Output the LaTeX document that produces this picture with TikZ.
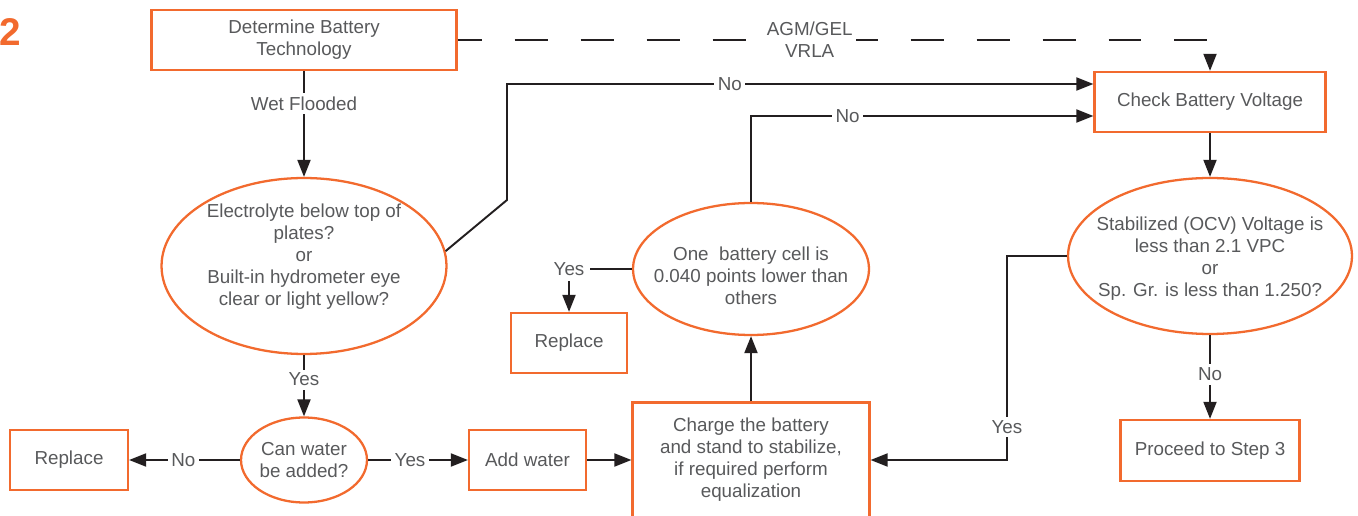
\documentclass[tikz,border=0pt]{standalone}
\usepackage{fontspec}
\setmainfont{Liberation Sans}
\usepackage{xcolor}
\usepackage{tikz}
\usetikzlibrary{positioning,arrows.meta,shapes.geometric}

\definecolor{flowor}{HTML}{F26A2E}
\definecolor{flowtx}{HTML}{58595B}
\definecolor{flowln}{HTML}{231F20}

\begin{document}
\begin{tikzpicture}[
    x=0.02cm,y=-0.02cm,
    font=\fontsize{10.7}{12.5}\selectfont,
    box/.style={
      draw=flowor,line width=1.3pt,align=center,text=flowtx,
      inner sep=0pt,minimum height=1.2cm},
    oval/.style={
      ellipse,draw=flowor,line width=1.3pt,inner sep=0pt},
    otext/.style={text=flowtx,align=center,inner sep=0pt},
    arr/.style={-{Triangle[length=3.4mm,width=2.6mm]},line width=1.1pt,draw=flowln},
    lbl/.style={fill=white,text=flowtx,inner sep=2pt,align=center}
]
\useasboundingbox (0,0) rectangle (1358,516);

% step number
\node[anchor=west,inner sep=0pt,text=flowor,font=\fontsize{22}{22}\selectfont\bfseries] (num) at (-1,32) {2};

% boxes
\node[box,minimum width=6.1cm]                    (det)  at (304,40)    {Determine Battery\\Technology};
\node[box,minimum width=4.62cm]                   (chk)  at (1210,102)  {Check Battery Voltage};
\node[box,minimum width=3.58cm,minimum height=1.22cm] (proc) at (1210,450.5) {Proceed to Step 3};
\node[box,minimum width=4.74cm,minimum height=2.3cm] (chg) at (751,460)
      {Charge the battery\\and stand to stabilize,\\if required perform\\equalization};
\node[box,minimum width=2.32cm]                   (repb) at (569,343)   {Replace};
\node[box,minimum width=2.36cm]                   (repa) at (69,460)    {Replace};
\node[box,minimum width=2.34cm]                   (add)  at (527.5,460) {Add water};

% decisions
\node[oval,minimum width=5.7cm,minimum height=3.52cm,
      label={[otext,yshift=0.18cm]center:{Electrolyte below top of\\plates?\\or\\Built-in hydrometer eye\\clear or light yellow?}}]
      (elec) at (304,266) {};
\node[oval,minimum width=2.52cm,minimum height=1.7cm,
      label={[otext]center:{Can water\\be added?}}]
      (can) at (304,460) {};
\node[oval,minimum width=4.72cm,minimum height=2.64cm,
      label={[otext,yshift=-0.14cm]center:{One\ \ battery cell is\\0.040 points lower than\\others}}]
      (cell) at (751,269) {};
\node[oval,minimum width=5.68cm,minimum height=3.12cm,
      label={[otext,yshift=-0.06cm]center:{Stabilized (OCV) Voltage is\\less than 2.1 VPC\\or\\Sp. Gr. is less than 1.250?}}]
      (stab) at (1210,256) {};

% connectors
\draw[arr,dash pattern=on 0.66cm off 0.66cm,dash phase=0.18cm] (det.east) -| node[lbl,pos=0.234]{AGM/GEL\\VRLA} (chk.north);
\draw[arr] (det.south) -- node[lbl,pos=0.31]{Wet Flooded} (elec.north);
\draw[arr] (elec.6.5) -- (507,200) |- node[lbl,pos=0.69]{No} ([yshift=0.36cm]chk.west);
\draw[arr] (elec.south) -- node[lbl,pos=0.4]{Yes} (can.north);
\draw[arr] (can.west) -- node[lbl,pos=0.51]{No} (repa.east);
\draw[arr] (can.east) -- node[lbl,pos=0.42]{Yes} (add.west);
\draw[arr] (add.east) -- (chg.west);
\draw[arr] (chg.north) -- (cell.south);
\draw[arr] (cell.west) -| node[lbl,pos=0.5,inner sep=3pt]{Yes} (repb.north);
\draw[arr] (cell.north) |- node[lbl,pos=0.641]{No} ([yshift=-0.28cm]chk.west);
\draw[arr] (chk.south) -- (stab.north);
\draw[arr] (stab.south) -- node[lbl,pos=0.47]{No} (proc.north);
\draw[arr] (stab.west) -- ++(-1.2cm,0) |- node[lbl,pos=0.42]{Yes} (chg.east);
\end{tikzpicture}
\end{document}
